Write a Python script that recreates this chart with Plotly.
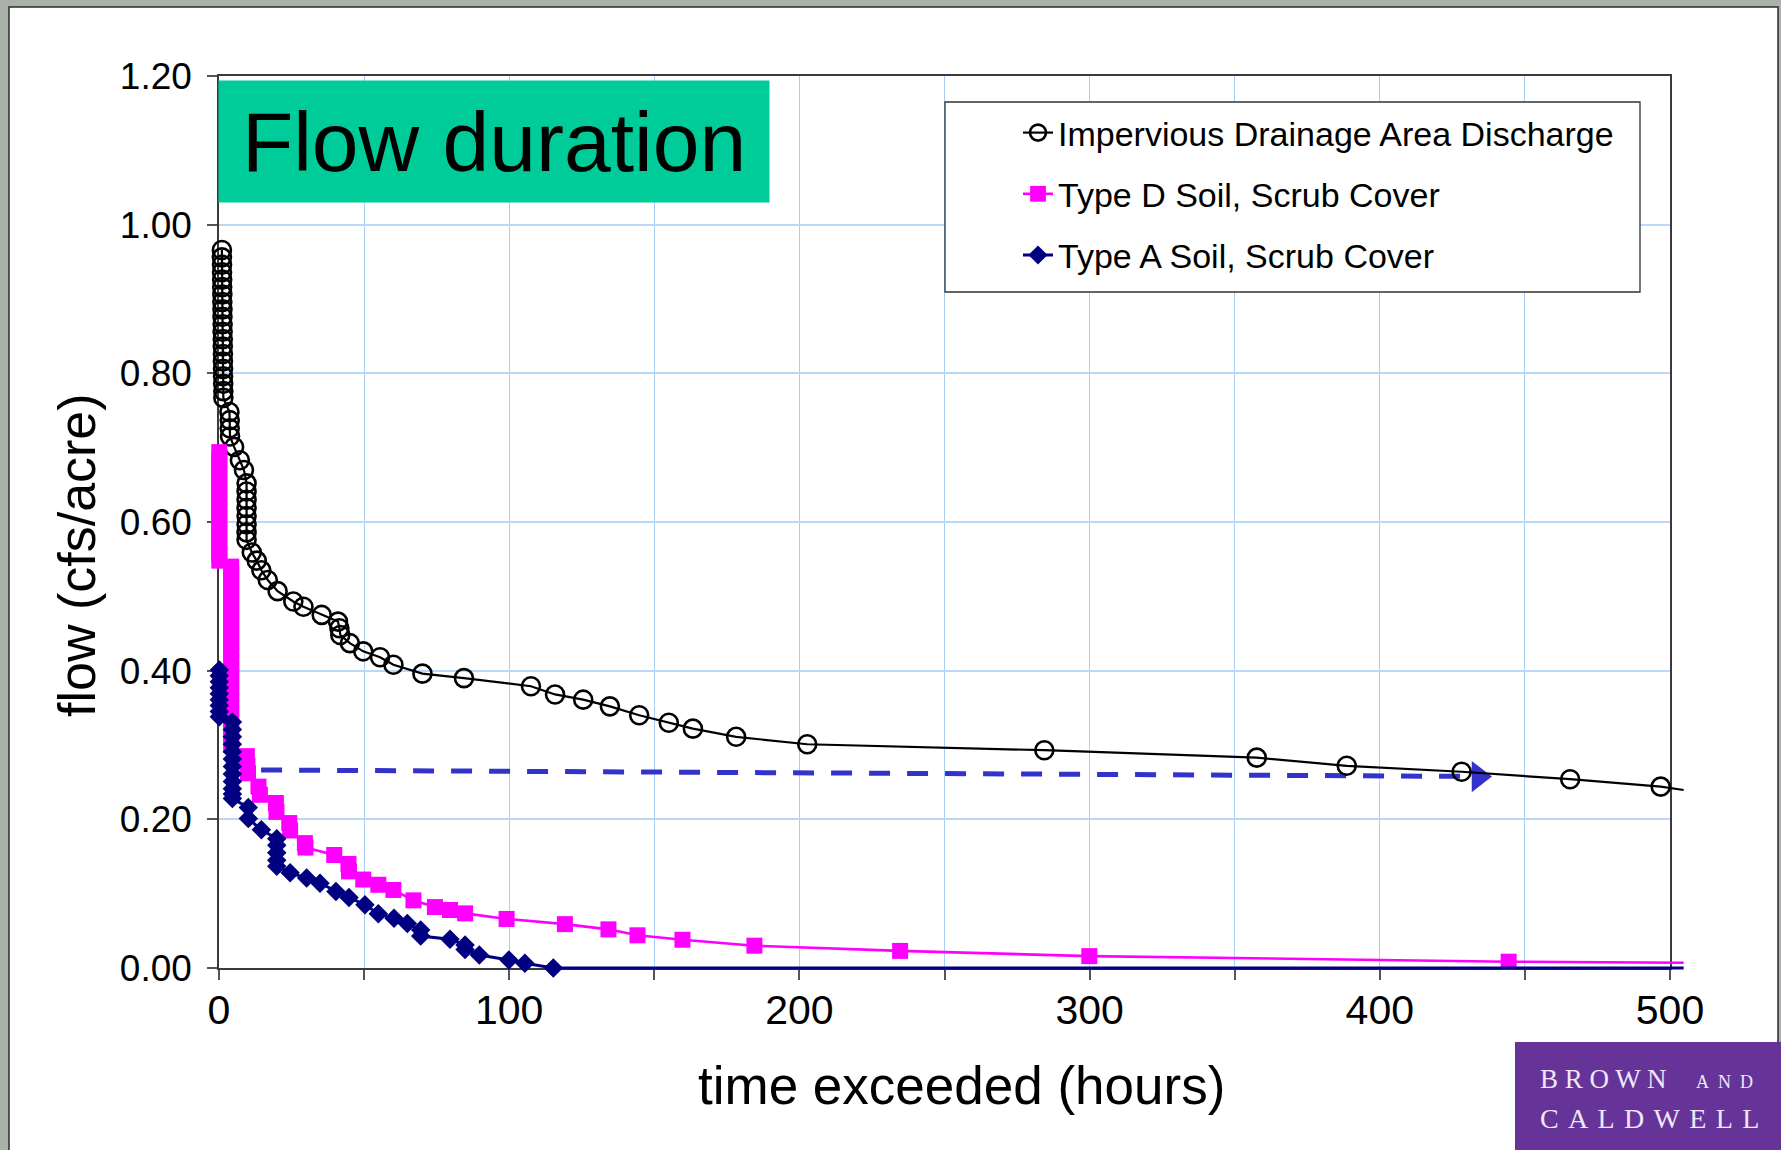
import plotly.graph_objects as go

# ---------------- data ----------------
imp_name = "Impervious Drainage Area Discharge"
imp_x = [1.0, 1.0, 1.05, 1.05, 1.1, 1.1, 1.15, 1.15, 1.2, 1.2, 1.25, 1.25, 1.3, 1.3,
         1.35, 1.35, 1.4, 1.4, 1.45, 1.5, 1.5,
         3.6, 3.7, 3.7, 3.8, 5.2, 7.2, 8.6,
         9.5, 9.5, 9.5, 9.5, 9.5, 9.5, 9.5, 9.5,
         11.3, 13.0, 14.6, 16.8, 20.2, 25.6, 29.1, 35.4, 41.0, 41.5, 41.8, 45.1, 49.7,
         55.5, 60.1, 70.1, 84.4, 107.5, 115.8, 125.5, 134.7, 144.8, 155.0, 163.3, 178.2,
         202.7, 284.4, 357.6, 388.6, 428.2, 465.6, 496.8, 504.7]
imp_y = [0.966, 0.956, 0.946, 0.936, 0.926, 0.916, 0.906, 0.896, 0.886, 0.876, 0.866,
         0.856, 0.846, 0.836, 0.826, 0.816, 0.806, 0.796, 0.786, 0.776, 0.767,
         0.748, 0.737, 0.726, 0.715, 0.701, 0.683, 0.670,
         0.652, 0.641, 0.630, 0.619, 0.608, 0.597, 0.586, 0.576,
         0.559, 0.548, 0.535, 0.522, 0.507, 0.493, 0.486, 0.475, 0.466, 0.457, 0.448,
         0.437, 0.426, 0.418, 0.408, 0.396, 0.390, 0.379, 0.368, 0.361, 0.352, 0.340,
         0.330, 0.322, 0.311, 0.301, 0.293, 0.283, 0.272, 0.264, 0.254, 0.244, 0.2395]

typd_name = "Type D Soil, Scrub Cover"
typd_x = [0.1, 0.1, 0.1, 0.1, 0.1, 0.1, 0.1, 0.1, 0.1, 0.1, 0.1, 0.1, 0.1, 0.1, 0.1, 0.1,
          4.2, 4.2, 4.2, 4.2, 4.2, 4.2, 4.2, 4.2, 4.2, 4.2, 4.2, 4.2, 4.2, 4.2, 4.2, 4.2,
          4.2, 4.2, 4.2, 4.2, 4.2, 4.2, 4.2, 4.2, 4.2,
          9.6, 9.8, 10.0, 13.6, 14.1, 19.6, 19.8, 24.2, 24.5, 29.6, 29.8, 39.7, 44.6,
          44.8, 49.7, 54.9, 60.1, 67.0, 74.4, 79.6, 84.8, 99.1, 119.2, 134.2, 144.2,
          159.7, 184.5, 234.7, 299.9, 444.4, 504.7]
typd_y = [0.694, 0.684, 0.674, 0.664, 0.654, 0.644, 0.634, 0.624, 0.614, 0.604, 0.594,
          0.584, 0.574, 0.564, 0.556, 0.548,
          0.540, 0.530, 0.520, 0.510, 0.500, 0.490, 0.480, 0.470, 0.460, 0.450, 0.440,
          0.430, 0.420, 0.410, 0.400, 0.390, 0.380, 0.370, 0.360, 0.350, 0.340, 0.330,
          0.320, 0.310, 0.300,
          0.285, 0.272, 0.262, 0.244, 0.233, 0.222, 0.210, 0.195, 0.185, 0.168, 0.162,
          0.152, 0.140, 0.130, 0.119, 0.112, 0.105, 0.091, 0.082, 0.078, 0.0735, 0.066,
          0.059, 0.052, 0.044, 0.038, 0.030, 0.023, 0.016, 0.0085, 0.0071]

typa_name = "Type A Soil, Scrub Cover"
typa_x = [0.1, 0.1, 0.1, 0.1, 0.1, 0.1, 0.1, 0.1, 0.1,
          4.6, 4.6, 4.6, 4.6, 4.6, 4.6, 4.6, 4.6, 4.6, 4.6, 4.6, 4.6,
          10.1, 10.1, 14.6, 19.9, 19.9, 19.9, 19.9, 19.9,
          24.5, 30.2, 34.8, 40.3, 44.8, 50.3, 54.9, 60.3, 64.9, 69.5, 69.5, 79.6, 84.8,
          84.8, 89.7, 99.9, 105.4, 115.2, 504.7]
typa_y = [0.401, 0.393, 0.385, 0.377, 0.369, 0.361, 0.353, 0.345, 0.338,
          0.331, 0.321, 0.311, 0.301, 0.291, 0.281, 0.271, 0.261, 0.251, 0.241, 0.234, 0.228,
          0.216, 0.201, 0.186, 0.174, 0.165, 0.155, 0.145, 0.137,
          0.128, 0.121, 0.114, 0.103, 0.095, 0.085, 0.073, 0.067, 0.060, 0.051, 0.043,
          0.0386, 0.031, 0.025, 0.0175, 0.0108, 0.0063, 0.0, 0.0]

# dashed arrow (annotation in data units)
arrow_x = [14.5, 430.0]
arrow_y = [0.2664, 0.2578]
arrow_head_x = [434.0]
arrow_head_y = [0.2575]

x_ticks = [0, 100, 200, 300, 400, 500]
y_ticks = [0.0, 0.2, 0.4, 0.6, 0.8, 1.0, 1.2]

# ---------------- layout geometry ----------------
W, H = 1781, 1150
L, R, T, B = 219, 97, 76, 172
PW = W - L - R          # 1465
PH = H - T - B          # 902
X_PLOT_W = 1451         # pixel width of 0..500
Y_PLOT_H = 892          # pixel height of 0..1.2


def fx(px):
    return (px - L) / PW


def fy(py):
    return (H - B - py) / PH


FONT = "Liberation Sans, Arial, sans-serif"
SERIF = "Liberation Serif, Times New Roman, serif"
GRID = "#A9CDF3"
AXC = "#3a3a3a"
LOGO_TXT = "#EEE8F6"

fig = go.Figure()


def sizes(n, s):
    return [s] * (n - 1) + [0]


# dashed arrow lives on the main (gridded) axes
fig.add_trace(go.Scatter(
    x=arrow_x, y=arrow_y, mode="lines", xaxis="x", yaxis="y", showlegend=False,
    line=dict(color="#3333CC", width=5, dash="21px,17px"), hoverinfo="skip"))
fig.add_trace(go.Scatter(
    x=arrow_head_x, y=arrow_head_y, mode="markers", xaxis="x", yaxis="y", showlegend=False,
    marker=dict(symbol="triangle-right", size=27, color="#3333CC"), cliponaxis=False,
    hoverinfo="skip"))

# data series on an identically scaled overlay that extends slightly past the frame
fig.add_trace(go.Scatter(
    x=imp_x, y=imp_y, name=imp_name, mode="lines+markers", xaxis="x2", yaxis="y2",
    line=dict(color="black", width=2.2),
    marker=dict(symbol="circle-open", size=sizes(len(imp_x), 18), color="black",
                opacity=1, line=dict(color="black", width=2.6)),
    cliponaxis=False, legendgroup="a"))

fig.add_trace(go.Scatter(
    x=typd_x, y=typd_y, name=typd_name, mode="lines+markers", xaxis="x2", yaxis="y2",
    line=dict(color="#FF00FF", width=2.6),
    marker=dict(symbol="square", size=sizes(len(typd_x), 16), color="#FF00FF",
                opacity=1, line=dict(width=0)),
    cliponaxis=False, legendgroup="b"))

fig.add_trace(go.Scatter(
    x=typa_x, y=typa_y, name=typa_name, mode="lines+markers", xaxis="x2", yaxis="y2",
    line=dict(color="#000080", width=3),
    marker=dict(symbol="diamond", size=sizes(len(typa_x), 15), color="#000080",
                opacity=1, line=dict(width=0)),
    cliponaxis=False, legendgroup="c"))

x_main_dom = [0, X_PLOT_W / PW]
y_main_dom = [(PH - Y_PLOT_H) / PH, 1]
px_per_x = X_PLOT_W / 500.0
px_per_y = Y_PLOT_H / 1.2

fig.update_layout(
    width=W, height=H,
    margin=dict(l=L, r=R, t=T, b=B, pad=0),
    paper_bgcolor="#A9B1A9",
    plot_bgcolor="rgba(0,0,0,0)",
    font=dict(family=FONT, color="black"),
    showlegend=True,
    xaxis=dict(
        domain=x_main_dom, range=[0, 500], anchor="y",
        tickmode="array", tickvals=x_ticks, ticktext=[str(v) for v in x_ticks],
        ticks="outside", ticklen=10, tickwidth=1.5, tickcolor="#555",
        tickfont=dict(size=41, family=FONT, color="black"), ticklabelstandoff=-5,
        showgrid=True, gridcolor=GRID, gridwidth=1.3,
        minor=dict(dtick=50, tick0=0, ticks="outside", ticklen=10, tickwidth=1.5,
                   tickcolor="#555", showgrid=True, gridcolor=GRID, gridwidth=1.3),
        showline=True, linecolor=AXC, linewidth=1.5, mirror=True, zeroline=False,
    ),
    yaxis=dict(
        domain=y_main_dom, range=[0, 1.2], anchor="x",
        tickmode="array", tickvals=y_ticks, ticktext=[f"{v:.2f}" for v in y_ticks],
        ticks="outside", ticklen=10, tickwidth=1.5, tickcolor="#555",
        tickfont=dict(size=37, family=FONT, color="black"), ticklabelstandoff=8,
        showgrid=True, gridcolor="#BBD9F7", gridwidth=1.5,
        showline=True, linecolor=AXC, linewidth=1.5, mirror=True, zeroline=False,
    ),
    xaxis2=dict(domain=[0, 1], range=[0, PW / px_per_x], anchor="y2", visible=False,
                showgrid=False, zeroline=False),
    yaxis2=dict(domain=[0, 1], range=[-(PH - Y_PLOT_H) / px_per_y, 1.2], anchor="x2",
                visible=False, showgrid=False, zeroline=False),
    legend=dict(x=fx(1018), y=fy(104), xanchor="left", yanchor="top",
                bgcolor="rgba(0,0,0,0)", borderwidth=0,
                font=dict(size=34, family=FONT, color="black"),
                tracegroupgap=14, itemsizing="trace"),
    shapes=[
        dict(type="rect", xref="paper", yref="paper", x0=fx(9), x1=fx(1778),
             y0=fy(1160), y1=fy(7), fillcolor="white",
             line=dict(color="#2b2b2b", width=1.5), layer="below"),
        dict(type="rect", xref="paper", yref="paper", x0=fx(945), x1=fx(1640),
             y0=fy(292), y1=fy(102), fillcolor="white",
             line=dict(color="#333333", width=1.3), layer="above"),
        dict(type="rect", xref="paper", yref="paper", x0=fx(1515), x1=fx(1795),
             y0=fy(1165), y1=fy(1042), fillcolor="#663399",
             line=dict(width=0), layer="above"),
    ],
    annotations=[
        dict(text="Flow duration", xref="paper", yref="paper", x=fx(218), y=fy(79.5),
             xanchor="left", yanchor="top", width=550, height=121, borderpad=0,
             bgcolor="#00CC99", align="center", valign="middle", showarrow=False,
             font=dict(size=84, family=FONT, color="black")),
        dict(text="time exceeded (hours)", xref="paper", yref="paper", x=fx(961),
             y=fy(1085), xanchor="center", yanchor="middle", showarrow=False,
             font=dict(size=53, family=FONT, color="black")),
        dict(text="flow (cfs/acre)", xref="paper", yref="paper", x=fx(77), y=fy(555),
             xanchor="center", yanchor="middle", textangle=-90, showarrow=False,
             font=dict(size=52, family=FONT, color="black")),
        dict(text="B R O W N", xref="paper", yref="paper", x=fx(1538), y=fy(1079),
             xanchor="left", yanchor="middle", showarrow=False,
             font=dict(size=27, family=SERIF, color=LOGO_TXT)),
        dict(text="A\u2002N\u2002D", xref="paper", yref="paper", x=fx(1755), y=fy(1082),
             xanchor="right", yanchor="middle", showarrow=False,
             font=dict(size=18, family=SERIF, color=LOGO_TXT)),
        dict(text="C\u2004A\u2004L\u2004D\u2004W\u2004E\u2004L\u2004L", xref="paper",
             yref="paper", x=fx(1538), y=fy(1118),
             xanchor="left", yanchor="middle", showarrow=False,
             font=dict(size=28, family=SERIF, color=LOGO_TXT)),
    ],
)

fig.write_html("out.html", config={"displayModeBar": False})
